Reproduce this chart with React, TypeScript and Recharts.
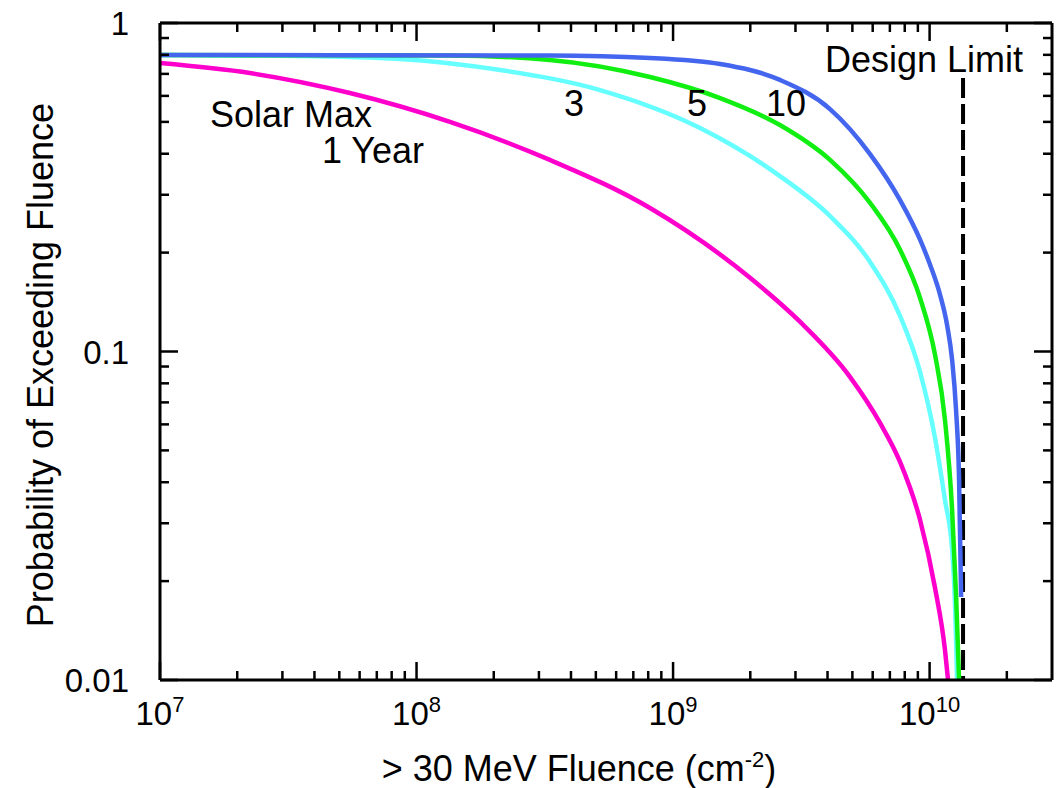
import { LineChart, Line, XAxis, YAxis, ReferenceLine } from 'recharts';

// fluence (cm^-2) and probability of exceeding it, per mission length
const fluence1yr = [1e7, 2.24e7, 5.5e7, 1.35e8, 3.31e8, 8.13e8, 2.0e9, 3.13e9, 4.9e9, 6.41e9, 7.67e9, 9.18e9, 1.05e10, 1.148e10, 1.18e10];
const prob1yr = [0.755, 0.704, 0.612, 0.5, 0.383, 0.2734, 0.1674, 0.123, 0.0836, 0.0606, 0.0461, 0.0307, 0.01906, 0.01234, 0.01];

const fluence3yr = [1e7, 3.51e7, 8.63e7, 2.12e8, 5.19e8, 1.274e9, 2.61e9, 4.09e9, 5.86e9, 7.67e9, 9.18e9, 1.05e10, 1.148e10, 1.224e10, 1.257e10, 1.28e10];
const prob3yr = [0.799, 0.794, 0.777, 0.719, 0.625, 0.479, 0.342, 0.2585, 0.1873, 0.1283, 0.0866, 0.0545, 0.0353, 0.0249, 0.01692, 0.01];

const fluence5yr = [1e7, 1.35e8, 3.31e8, 8.13e8, 1.525e9, 2.61e9, 4.09e9, 5.86e9, 7.67e9, 9.18e9, 1.05e10, 1.148e10, 1.224e10, 1.268e10, 1.303e10];
const prob5yr = [0.799, 0.796, 0.772, 0.685, 0.591, 0.489, 0.383, 0.2833, 0.204, 0.1455, 0.0976, 0.0619, 0.0329, 0.01815, 0.01];

const fluence10yr = [1e7, 3.31e8, 8.13e8, 1.525e9, 2.61e9, 4.09e9, 5.86e9, 7.67e9, 9.18e9, 1.005e10, 1.099e10, 1.17e10, 1.224e10, 1.268e10, 1.303e10, 1.327e10];
const prob10yr = [0.799, 0.796, 0.7825, 0.75, 0.671, 0.547, 0.399, 0.289, 0.219, 0.1834, 0.1486, 0.1204, 0.0942, 0.0663, 0.0406, 0.0179];

const designLimit = 1.35e10;

const xMajor = [1e7, 1e8, 1e9, 1e10];
const xMinor = [
  2e7, 3e7, 4e7, 5e7, 6e7, 7e7, 8e7, 9e7,
  2e8, 3e8, 4e8, 5e8, 6e8, 7e8, 8e8, 9e8,
  2e9, 3e9, 4e9, 5e9, 6e9, 7e9, 8e9, 9e9,
  2e10,
];
const yMajor = [0.01, 0.1, 1];
const yMajorLabels = ['0.01', '0.1', '1'];
const yMinor = [0.02, 0.03, 0.04, 0.05, 0.06, 0.07, 0.08, 0.09, 0.2, 0.3, 0.4, 0.5, 0.6, 0.7, 0.8, 0.9];

const FONT = '"Liberation Sans", Arial, Helvetica, sans-serif';
const MAJOR = 18;
const MINOR = 9;

const toRows = (fs: number[], ps: number[]) => fs.map((f, i) => ({ f, p: ps[i] }));

const isMajor = (list: number[], v: number) => list.some((m) => Math.abs(m - v) / m < 1e-9);

function BottomTick(props: any) {
  const { x, y, payload } = props;
  const v = payload.value;
  const major = isMajor(xMajor, v);
  return (
    <g>
      <line x1={x} y1={y} x2={x} y2={y - (major ? MAJOR : MINOR)} stroke="#000" strokeWidth={2.5} />
      {major && (
        <text x={x} y={y + 45} textAnchor="middle" fontSize={33} fontFamily={FONT} fill="#000">
          <tspan>10</tspan>
          <tspan dy={-13} fontSize={22}>{Math.round(Math.log10(v))}</tspan>
        </text>
      )}
    </g>
  );
}

function TopTick(props: any) {
  const { x, y, payload } = props;
  const major = isMajor(xMajor, payload.value);
  return <line x1={x} y1={y} x2={x} y2={y + (major ? MAJOR : MINOR)} stroke="#000" strokeWidth={2.5} />;
}

function LeftTick(props: any) {
  const { x, y, payload } = props;
  const v = payload.value;
  const idx = yMajor.findIndex((m) => Math.abs(m - v) / m < 1e-9);
  const major = idx >= 0;
  return (
    <g>
      <line x1={x} y1={y} x2={x + (major ? MAJOR : MINOR)} y2={y} stroke="#000" strokeWidth={2.5} />
      {major && (
        <text x={x - 31} y={y + 12} textAnchor="end" fontSize={33} fontFamily={FONT} fill="#000">
          {yMajorLabels[idx]}
        </text>
      )}
    </g>
  );
}

function RightTick(props: any) {
  const { x, y, payload } = props;
  const major = isMajor(yMajor, payload.value);
  return <line x1={x} y1={y} x2={x - (major ? MAJOR : MINOR)} y2={y} stroke="#000" strokeWidth={2.5} />;
}

const xTicks = [...xMajor, ...xMinor].sort((a, b) => a - b);
const yTicks = [...yMajor, ...yMinor].sort((a, b) => a - b);
const axisLine = { stroke: '#000', strokeWidth: 3 };

export default function App() {
  return (
    <div style={{ position: 'absolute', left: 0, top: 0, width: 1061, height: 788, background: '#fff' }}>
      <LineChart width={1061} height={788} margin={{ top: 0, right: 0, bottom: 0, left: 0 }}>
        <XAxis
          xAxisId="b"
          dataKey="f"
          type="number"
          scale="log"
          domain={[1e7, 3e10]}
          ticks={xTicks}
          interval={0}
          orientation="bottom"
          height={108}
          axisLine={axisLine}
          tickLine={false}
          tickSize={0}
          tickMargin={0}
          tick={<BottomTick />}
          allowDataOverflow
        />
        <XAxis
          xAxisId="t"
          dataKey="f"
          type="number"
          scale="log"
          domain={[1e7, 3e10]}
          ticks={xTicks}
          interval={0}
          orientation="top"
          height={23}
          axisLine={axisLine}
          tickLine={false}
          tickSize={0}
          tickMargin={0}
          tick={<TopTick />}
          allowDataOverflow
        />
        <YAxis
          yAxisId="l"
          type="number"
          scale="log"
          domain={[0.01, 1]}
          ticks={yTicks}
          interval={0}
          width={160}
          axisLine={axisLine}
          tickLine={false}
          tickSize={0}
          tickMargin={0}
          tick={<LeftTick />}
          allowDataOverflow
        />
        <YAxis
          yAxisId="r"
          orientation="right"
          type="number"
          scale="log"
          domain={[0.01, 1]}
          ticks={yTicks}
          interval={0}
          width={9}
          axisLine={axisLine}
          tickLine={false}
          tickSize={0}
          tickMargin={0}
          tick={<RightTick />}
          allowDataOverflow
        />
        <ReferenceLine
          xAxisId="b"
          yAxisId="l"
          segment={[{ x: designLimit, y: 0.68 }, { x: designLimit, y: 0.01 }]}
          stroke="#000"
          strokeWidth={4}
          strokeDasharray="20 6"
        />
        <Line xAxisId="b" yAxisId="l" data={toRows(fluence1yr, prob1yr)} dataKey="p" type="monotone" stroke="#ff00cc" strokeWidth={4.5} dot={false} isAnimationActive={false} />
        <Line xAxisId="b" yAxisId="l" data={toRows(fluence3yr, prob3yr)} dataKey="p" type="monotone" stroke="#66ffff" strokeWidth={4.5} dot={false} isAnimationActive={false} />
        <Line xAxisId="b" yAxisId="l" data={toRows(fluence5yr, prob5yr)} dataKey="p" type="monotone" stroke="#11ee11" strokeWidth={4.5} dot={false} isAnimationActive={false} />
        <Line xAxisId="b" yAxisId="l" data={toRows(fluence10yr, prob10yr)} dataKey="p" type="monotone" stroke="#4466ee" strokeWidth={4.5} dot={false} isAnimationActive={false} />
      </LineChart>
      <svg
        width={1061}
        height={788}
        style={{ position: 'absolute', left: 0, top: 0, pointerEvents: 'none' }}
        fontFamily={FONT}
        fontSize={36}
        fill="#000"
      >
        <text x={210} y={127}>Solar Max</text>
        <text x={322} y={163}>1 Year</text>
        <text x={564} y={116}>3</text>
        <text x={687} y={116}>5</text>
        <text x={766} y={116}>10</text>
        <text x={1023} y={72} textAnchor="end">Design Limit</text>
        <text transform="translate(53,365) rotate(-90)" textAnchor="middle">Probability of Exceeding Fluence</text>
        <text x={579} y={781} textAnchor="middle">
          <tspan>&gt; 30 MeV Fluence (cm</tspan>
          <tspan dy={-14} fontSize={22}>-2</tspan>
          <tspan dy={14}>)</tspan>
        </text>
      </svg>
    </div>
  );
}
